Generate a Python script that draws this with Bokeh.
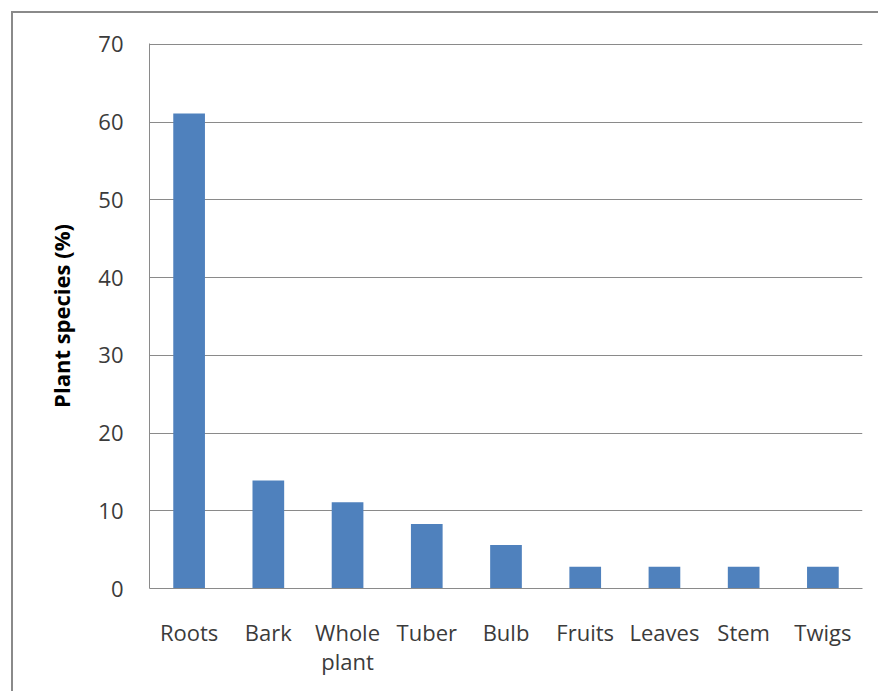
from bokeh.plotting import figure
from bokeh.models import Range1d, LinearAxis, FixedTicker
from bokeh.embed import file_html
from bokeh.resources import INLINE

categories = ["Roots", "Bark", "Whole plant", "Tuber", "Bulb", "Fruits", "Leaves", "Stem", "Twigs"]
values = [61.1, 13.9, 11.1, 8.3, 5.6, 2.8, 2.8, 2.8, 2.8]
y_ticks = [0, 10, 20, 30, 40, 50, 60, 70]

FONT = "Open Sans"
TEXT = "#3b3b3b"
GRID = "#8a8a8a"

# one slot per category, centred on its index
positions = list(range(len(categories)))

p = figure(x_range=Range1d(-0.5, len(categories) - 0.5), y_range=Range1d(0, 70.1),
           width=867, height=680, output_backend="svg", toolbar_location=None,
           x_axis_type=None,
           min_border_left=136, min_border_top=30, min_border_right=18, min_border_bottom=105)
p.styles = {"border-left": "2px solid #8a8a8a", "border-top": "2px solid #8a8a8a",
            "margin-left": "11px", "margin-top": "11px"}

p.vbar(x=positions, top=values, width=0.4, fill_color="#4F81BD", line_color=None)

first_lines = {}
second_lines = {}
for i, name in zip(positions, categories):
    parts = name.split(" ")
    first_lines[i] = parts[0]
    first_lines[str(i)] = parts[0]
    if len(parts) > 1:
        second_lines[i] = parts[1]
        second_lines[str(i)] = parts[1]
second_ticks = [i for i, name in zip(positions, categories) if " " in name]

ax1 = LinearAxis(ticker=FixedTicker(ticks=positions), major_label_overrides=first_lines)
ax2 = LinearAxis(ticker=FixedTicker(ticks=second_ticks), major_label_overrides=second_lines)
for ax in (ax1, ax2):
    ax.major_tick_line_color = None
    ax.minor_tick_line_color = None
    ax.major_tick_out = 0
    ax.major_tick_in = 0
    ax.major_label_text_font = FONT
    ax.major_label_text_font_size = "22px"
    ax.major_label_text_color = TEXT
ax1.axis_line_color = GRID
ax1.major_label_standoff = 28
ax2.axis_line_color = None
ax2.major_label_standoff = -4
p.add_layout(ax1, "below")
p.add_layout(ax2, "below")

p.outline_line_color = None
p.background_fill_color = "white"
p.border_fill_color = "white"

p.ygrid.grid_line_color = GRID
p.ygrid.grid_line_width = 1
p.yaxis.ticker = y_ticks

p.yaxis.axis_label = "Plant species (%)"
p.yaxis.axis_label_text_font = FONT
p.yaxis.axis_label_text_font_style = "bold"
p.yaxis.axis_label_text_font_size = "22px"
p.yaxis.axis_label_text_color = "black"
p.yaxis.axis_label_standoff = 19
p.yaxis.axis_line_color = GRID
p.yaxis.major_tick_line_color = None
p.yaxis.minor_tick_line_color = None
p.yaxis.major_tick_out = 0
p.yaxis.major_tick_in = 0
p.yaxis.major_label_text_font = FONT
p.yaxis.major_label_text_font_size = "22px"
p.yaxis.major_label_text_color = TEXT
p.yaxis.major_label_standoff = 26

open("out.html", "w").write(file_html(p, INLINE))
